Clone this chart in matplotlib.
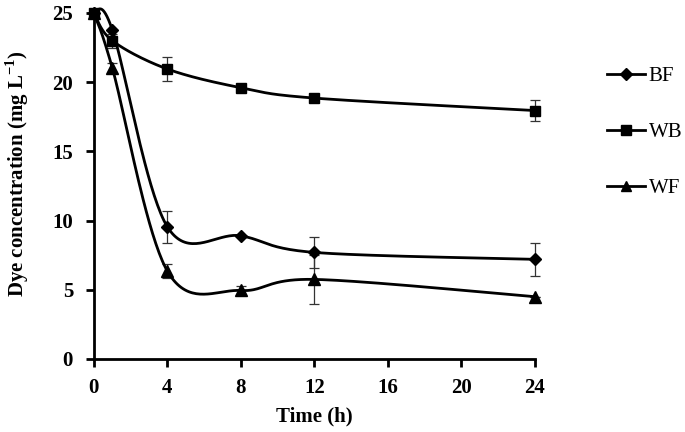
import numpy as np
import matplotlib.pyplot as plt

# sampling times (h)
time = [0, 1, 4, 8, 12, 24]

# dye concentration (mg/L) and error bars
bf = [25.0, 23.8, 9.55, 8.9, 7.7, 7.2]
bf_err = [0, 0, 1.15, 0, 1.1, 1.2]
wb = [25.0, 23.0, 20.95, 19.6, 18.85, 17.95]
wb_err = [0, 0.5, 0.9, 0, 0, 0.75]
wf = [25.0, 21.05, 6.35, 4.95, 5.75, 4.5]
wf_err = [0, 0.3, 0.5, 0.3, 1.75, 0]


def smooth(x, y, n=40):
    # Excel-like smoothed line (Catmull-Rom as cubic Bezier)
    x = np.asarray(x, float)
    y = np.asarray(y, float)
    p = np.column_stack([x, y])
    pts = np.vstack([p[0], p, p[-1]])
    out = []
    t = np.linspace(0, 1, n)[:, None]
    for i in range(1, len(pts) - 2):
        p0, p1, p2, p3 = pts[i - 1], pts[i], pts[i + 1], pts[i + 2]
        c1 = p1 + (p2 - p0) / 6
        c2 = p2 - (p3 - p1) / 6
        seg = ((1 - t) ** 3) * p1 + 3 * ((1 - t) ** 2) * t * c1 + 3 * (1 - t) * t ** 2 * c2 + t ** 3 * p2
        out.append(seg if i == 1 else seg[1:])
    out = np.vstack(out)
    return out[:, 0], out[:, 1]


plt.rcParams['font.family'] = ['Liberation Serif', 'DejaVu Serif']
plt.rcParams['mathtext.fontset'] = 'custom'
plt.rcParams['mathtext.rm'] = 'Liberation Serif'
plt.rcParams['mathtext.bf'] = 'Liberation Serif:bold'

fig = plt.figure(figsize=(6.85, 4.32), dpi=100)
ax = fig.add_axes([0.137, 0.169, 0.644, 0.801])

series = [('BF', bf, bf_err, 'D', 6.5), ('WB', wb, wb_err, 's', 7.5), ('WF', wf, wf_err, '^', 8)]
handles = []
for name, y, err, mk, ms in series:
    ax.errorbar(time, y, yerr=err, fmt='none', ecolor='#333333', elinewidth=0.9,
                capsize=3.5, capthick=0.9, clip_on=False, zorder=2)
    sx, sy = smooth(time, y)
    ax.plot(sx, sy, color='black', lw=2, clip_on=False, zorder=3)
    ax.plot(time, y, linestyle='none', marker=mk, ms=ms, color='black',
            clip_on=False, zorder=4)
    h, = ax.plot([], [], color='black', lw=2, marker=mk, ms=ms - 0.5)
    handles.append(h)

ax.set_xlim(0, 24)
ax.set_ylim(0, 25)
ax.set_xticks([0, 4, 8, 12, 16, 20, 24])
ax.set_yticks([0, 5, 10, 15, 20, 25])
for s in ['top', 'right']:
    ax.spines[s].set_visible(False)
for s in ['left', 'bottom']:
    ax.spines[s].set_linewidth(2)
ax.tick_params(direction='out', length=6, width=2, labelsize=15)
ax.tick_params(axis='y', pad=9)
ax.tick_params(axis='x', pad=8)
for lab in ax.get_xticklabels() + ax.get_yticklabels():
    lab.set_fontweight('bold')

ax.set_xlabel('Time (h)', fontsize=15, fontweight='bold', labelpad=6)
ax.set_ylabel('Dye concentration (mg L$^{\\mathbf{-1}}$)', fontsize=15,
              fontweight='bold')
ax.yaxis.set_label_coords(-0.143, 0.535)

fig.legend(handles, ['BF', 'WB', 'WF'], loc='center left', bbox_to_anchor=(0.886, 0.694),
           frameon=False, fontsize=15, handlelength=1.85, handletextpad=0.15,
           labelspacing=1.75, borderpad=0, borderaxespad=0)

fig.savefig('out.png', dpi=100)
